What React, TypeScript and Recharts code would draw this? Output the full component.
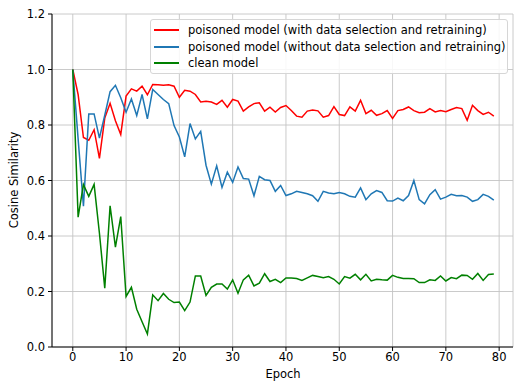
import React from 'react';
import { LineChart, Line, XAxis, YAxis, CartesianGrid, Legend } from 'recharts';

const withSelection = [
  1.0, 0.91, 0.755, 0.745, 0.783, 0.68, 0.825, 0.878, 0.815, 0.766,
  0.904, 0.93, 0.922, 0.94, 0.909, 0.946, 0.945, 0.943, 0.945, 0.94,
  0.9, 0.925, 0.922, 0.91, 0.883, 0.886, 0.883, 0.874, 0.889, 0.864,
  0.892, 0.886, 0.85, 0.865, 0.877, 0.88, 0.85, 0.864, 0.847, 0.863,
  0.87, 0.852, 0.832, 0.828, 0.85, 0.854, 0.851, 0.828, 0.834, 0.866,
  0.838, 0.834, 0.865, 0.85, 0.889, 0.841, 0.853, 0.835, 0.841, 0.852,
  0.824, 0.852, 0.856, 0.865, 0.852, 0.844, 0.846, 0.859, 0.847, 0.852,
  0.848, 0.856, 0.863, 0.859, 0.817, 0.871, 0.852, 0.838, 0.846, 0.832,
];

const withoutSelection = [
  1.0, 0.75, 0.507, 0.84, 0.84, 0.753, 0.835, 0.92, 0.943, 0.898,
  0.846, 0.894, 0.834, 0.91, 0.822, 0.928, 0.91, 0.892, 0.877, 0.798,
  0.757, 0.685, 0.805, 0.75, 0.777, 0.655, 0.587, 0.653, 0.575, 0.63,
  0.593, 0.649, 0.607, 0.605, 0.545, 0.615, 0.603, 0.6, 0.561, 0.582,
  0.546, 0.552, 0.561, 0.557, 0.552, 0.545, 0.525, 0.561, 0.555, 0.552,
  0.557, 0.552, 0.543, 0.54, 0.573, 0.531, 0.552, 0.564, 0.557, 0.527,
  0.526, 0.537, 0.527, 0.546, 0.6, 0.531, 0.516, 0.549, 0.567, 0.533,
  0.54, 0.55, 0.545, 0.546, 0.54, 0.525, 0.531, 0.55, 0.543, 0.529,
];

const cleanModel = [
  1.0, 0.468, 0.585, 0.543, 0.586, 0.41, 0.212, 0.509, 0.36, 0.47,
  0.182, 0.215, 0.136, 0.091, 0.047, 0.188, 0.167, 0.193, 0.172, 0.16,
  0.162, 0.131, 0.162, 0.256, 0.256, 0.186, 0.215, 0.227, 0.227, 0.209,
  0.242, 0.194, 0.242, 0.259, 0.22, 0.23, 0.264, 0.236, 0.244, 0.232,
  0.249, 0.249, 0.247, 0.24, 0.249, 0.258, 0.254, 0.25, 0.254, 0.244,
  0.227, 0.254, 0.248, 0.262, 0.242, 0.262, 0.238, 0.244, 0.242, 0.241,
  0.258, 0.251, 0.247, 0.247, 0.246, 0.232, 0.232, 0.242, 0.24, 0.256,
  0.238, 0.25, 0.246, 0.259, 0.258, 0.244, 0.265, 0.24, 0.261, 0.263,
];

const xTicks = [0, 10, 20, 30, 40, 50, 60, 70, 80];
const yTicks = [0, 0.2, 0.4, 0.6, 0.8, 1.0, 1.2];

const seriesNames = [
  'poisoned model (with data selection and retraining)',
  'poisoned model (without data selection and retraining)',
  'clean model',
];
const seriesColors = ['#ff0000', '#1f77b4', '#008000'];

const data = withSelection.map((v, i) => ({
  epoch: i,
  withSel: v,
  withoutSel: withoutSelection[i],
  clean: cleanModel[i],
}));

const FONT = '"DejaVu Sans", sans-serif';
const FS = 11.5;

const LegendBox = () => (
  <div
    style={{
      boxSizing: 'border-box',
      width: 358,
      height: 55,
      border: '1px solid #d6d6d6',
      borderRadius: 3,
      background: 'rgba(255,255,255,0.85)',
      padding: '2px 0 0 3px',
      fontFamily: FONT,
      fontSize: FS,
      color: '#000',
    }}
  >
    {seriesNames.map((name, i) => (
      <div key={name} style={{ display: 'flex', alignItems: 'center', height: 16.5 }}>
        <div style={{ width: 25, height: 2, background: seriesColors[i], marginRight: 9 }} />
        <span style={{ whiteSpace: 'nowrap' }}>{name}</span>
      </div>
    ))}
  </div>
);

const YLabel = () => (
  <text
    x={14}
    y={180}
    transform="rotate(-90, 14, 180)"
    textAnchor="middle"
    dominantBaseline="central"
    fontFamily={FONT}
    fontSize={FS}
    fill="#000"
  >
    Cosine Similarity
  </text>
);

const XLabel = () => (
  <text x={283} y={374} textAnchor="middle" dominantBaseline="central" fontFamily={FONT} fontSize={FS} fill="#000">
    Epoch
  </text>
);

export default function App() {
  const tickStyle = { fontSize: FS, fill: '#000', fontFamily: FONT };
  return (
    <div style={{ position: 'absolute', left: 0, top: 0, background: '#fff' }}>
      <LineChart width={514} height={381} data={data} margin={{ top: 14, right: 1, bottom: 0, left: 0 }}>
        <CartesianGrid stroke="#c4c4c4" strokeWidth={0.9} />
        <XAxis
          dataKey="epoch"
          type="number"
          domain={[-3.9, 82.6]}
          ticks={xTicks}
          allowDataOverflow
          height={34}
          tick={tickStyle}
          tickSize={4}
          tickMargin={2}
          stroke="#000"
          axisLine={{ stroke: '#000' }}
          tickLine={{ stroke: '#000' }}
          label={<XLabel />}
        />
        <XAxis
          xAxisId="top"
          dataKey="epoch"
          type="number"
          domain={[-3.9, 82.6]}
          orientation="top"
          height={0}
          tick={false}
          tickLine={false}
          axisLine={{ stroke: '#000' }}
        />
        <YAxis
          type="number"
          domain={[0, 1.2]}
          ticks={yTicks}
          width={52}
          tick={tickStyle}
          tickSize={4}
          tickMargin={3}
          tickFormatter={(v: number) => v.toFixed(1)}
          axisLine={{ stroke: '#000' }}
          tickLine={{ stroke: '#000' }}
          label={<YLabel />}
        />
        <YAxis
          yAxisId="right"
          orientation="right"
          width={0}
          domain={[0, 1.2]}
          tick={false}
          tickLine={false}
          axisLine={{ stroke: '#000' }}
        />
        <Line
          dataKey="withSel"
          name={seriesNames[0]}
          stroke={seriesColors[0]}
          strokeWidth={1.5}
          dot={false}
          isAnimationActive={false}
        />
        <Line
          dataKey="withoutSel"
          name={seriesNames[1]}
          stroke={seriesColors[1]}
          strokeWidth={1.5}
          dot={false}
          isAnimationActive={false}
        />
        <Line
          dataKey="clean"
          name={seriesNames[2]}
          stroke={seriesColors[2]}
          strokeWidth={1.5}
          dot={false}
          isAnimationActive={false}
        />
        <Legend
          layout="vertical"
          align="center"
          verticalAlign="middle"
          wrapperStyle={{ left: 150, top: 19, width: 358 }}
          content={<LegendBox />}
        />
      </LineChart>
    </div>
  );
}
